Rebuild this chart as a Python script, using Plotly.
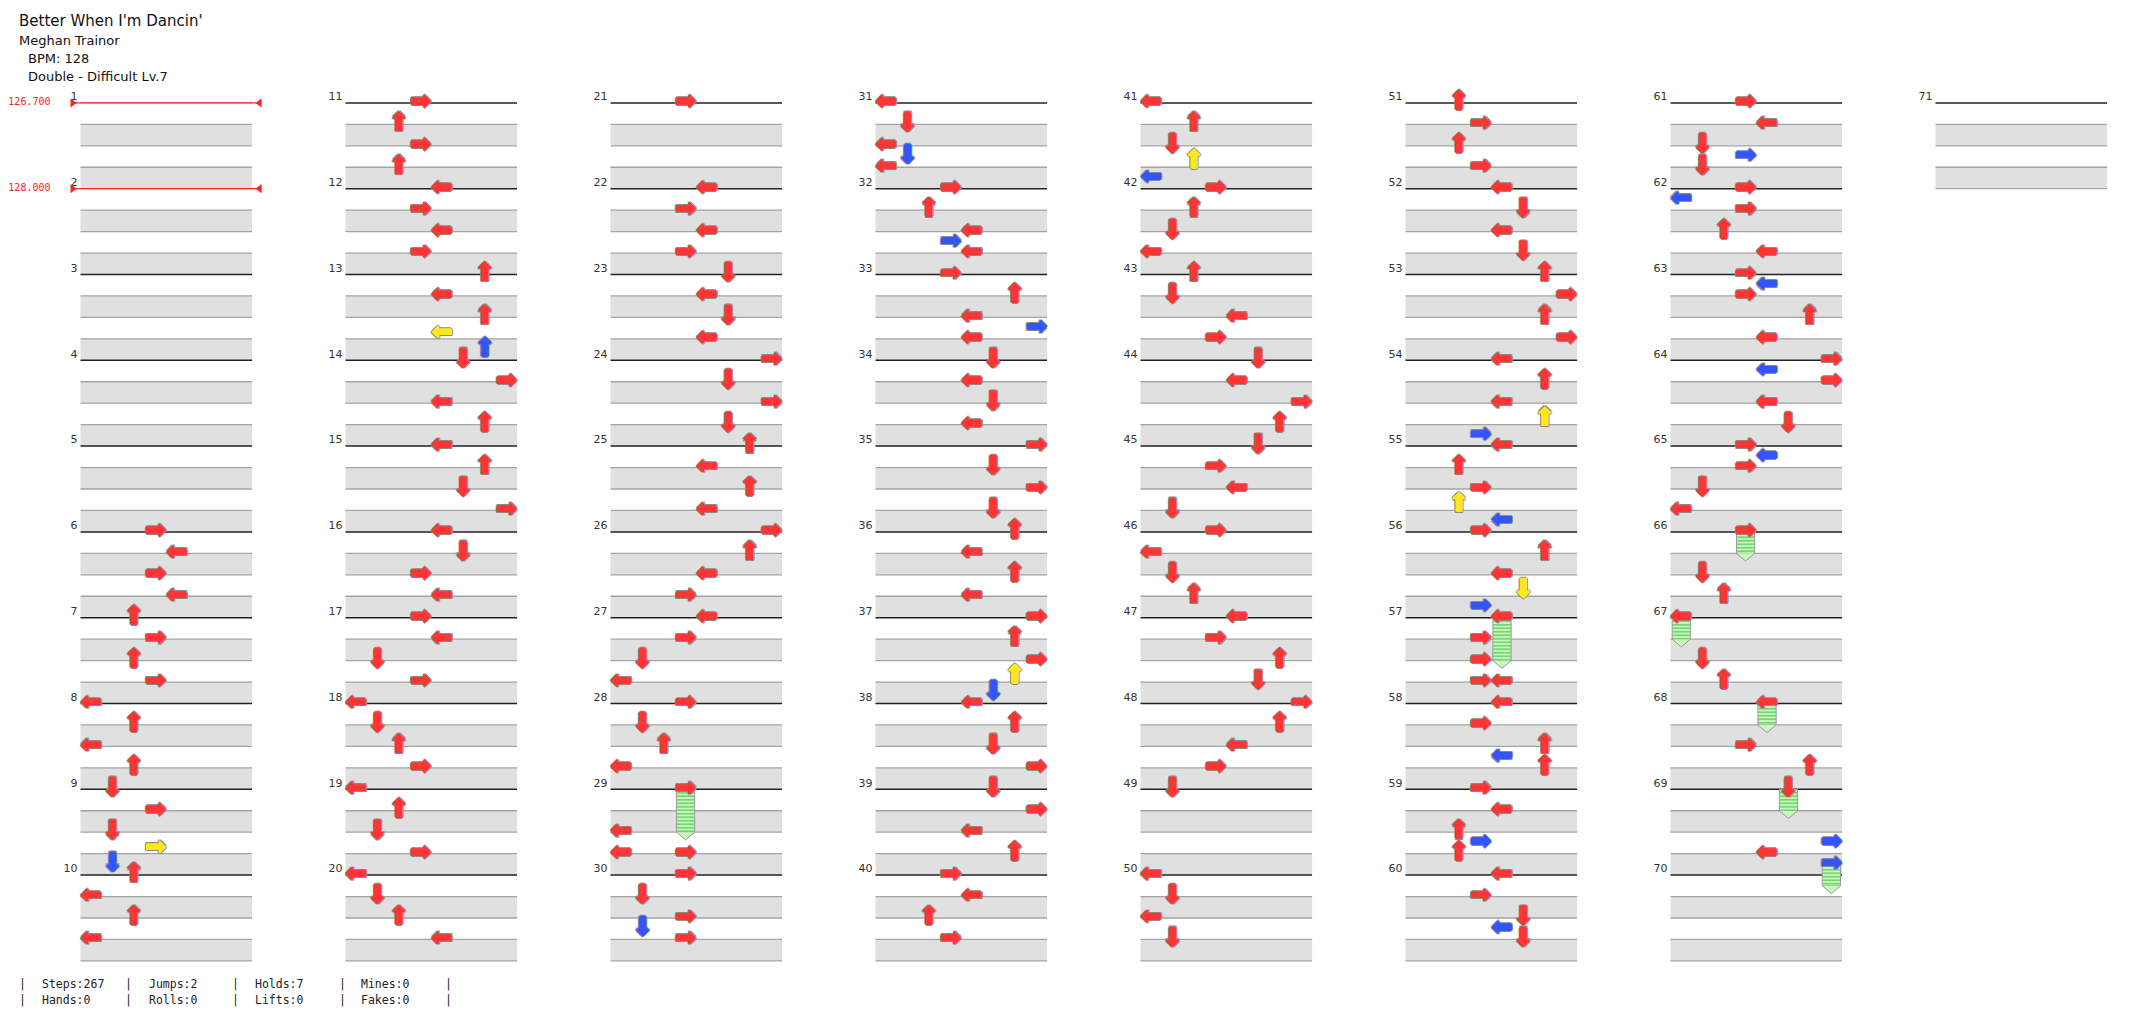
import plotly.graph_objects as go

W, H = 2145, 1024

# ---------------- text content ----------------
song_title = "Better When I'm Dancin'"
song_artist = "Meghan Trainor"
song_bpm = "BPM: 128"
song_difficulty = "Double - Difficult Lv.7"

total_measures = 71
measures_per_column = 10

bpm_change_measure = [1, 2]
bpm_change_value = [126.7, 128.0]

# ---------------- notes: (measure, beat, lane 0-7) ----------------
col1_notes = [
    (6, 0, 3), (6, 1, 4), (6, 2, 3), (6, 3, 4),
    (7, 0, 2), (7, 1, 3), (7, 2, 2), (7, 3, 3),
    (8, 0, 0), (8, 1, 2), (8, 2, 0), (8, 3, 2),
    (9, 0, 1), (9, 1, 3), (9, 2, 1), (9, 2.75, 3), (9, 3.5, 1),
    (10, 0, 2), (10, 1, 0), (10, 2, 2), (10, 3, 0),
]
col2_notes = [
    (11, 0, 3), (11, 1, 2), (11, 2, 3), (11, 3, 2),
    (12, 0, 4), (12, 1, 3), (12, 2, 4), (12, 3, 3),
    (13, 0, 6), (13, 1, 4), (13, 2, 6), (13, 2.75, 4), (13, 3.5, 6),
    (14, 0, 5), (14, 1, 7), (14, 2, 4), (14, 3, 6),
    (15, 0, 4), (15, 1, 6), (15, 2, 5), (15, 3, 7),
    (16, 0, 4), (16, 1, 5), (16, 2, 3), (16, 3, 4),
    (17, 0, 3), (17, 1, 4), (17, 2, 1), (17, 3, 3),
    (18, 0, 0), (18, 1, 1), (18, 2, 2), (18, 3, 3),
    (19, 0, 0), (19, 1, 2), (19, 2, 1), (19, 3, 3),
    (20, 0, 0), (20, 1, 1), (20, 2, 2), (20, 3, 4),
]
col3_notes = [
    (21, 0, 3),
    (22, 0, 4), (22, 1, 3), (22, 2, 4), (22, 3, 3),
    (23, 0, 5), (23, 1, 4), (23, 2, 5), (23, 3, 4),
    (24, 0, 7), (24, 1, 5), (24, 2, 7), (24, 3, 5),
    (25, 0, 6), (25, 1, 4), (25, 2, 6), (25, 3, 4),
    (26, 0, 7), (26, 1, 6), (26, 2, 4), (26, 3, 3),
    (27, 0, 4), (27, 1, 3), (27, 2, 1), (27, 3, 0),
    (28, 0, 3), (28, 1, 1), (28, 2, 2), (28, 3, 0),
    (29, 0, 3), (29, 2, 0), (29, 3, 0), (29, 3, 3),
    (30, 0, 3), (30, 1, 1), (30, 2, 3), (30, 2.5, 1), (30, 3, 3),
]
col4_notes = [
    (31, 0, 0), (31, 1, 1), (31, 2, 0), (31, 2.5, 1), (31, 3, 0),
    (32, 0, 3), (32, 1, 2), (32, 2, 4), (32, 2.5, 3), (32, 3, 4),
    (33, 0, 3), (33, 1, 6), (33, 2, 4), (33, 2.5, 7), (33, 3, 4),
    (34, 0, 5), (34, 1, 4), (34, 2, 5), (34, 3, 4),
    (35, 0, 7), (35, 1, 5), (35, 2, 7), (35, 3, 5),
    (36, 0, 6), (36, 1, 4), (36, 2, 6), (36, 3, 4),
    (37, 0, 7), (37, 1, 6), (37, 2, 7), (37, 2.75, 6), (37, 3.5, 5),
    (38, 0, 4), (38, 1, 6), (38, 2, 5), (38, 3, 7),
    (39, 0, 5), (39, 1, 7), (39, 2, 4), (39, 3, 6),
    (40, 0, 3), (40, 1, 4), (40, 2, 2), (40, 3, 3),
]
col5_notes = [
    (41, 0, 0), (41, 1, 2), (41, 2, 1), (41, 2.75, 2), (41, 3.5, 0),
    (42, 0, 3), (42, 1, 2), (42, 2, 1), (42, 3, 0),
    (43, 0, 2), (43, 1, 1), (43, 2, 4), (43, 3, 3),
    (44, 0, 5), (44, 1, 4), (44, 2, 7), (44, 3, 6),
    (45, 0, 5), (45, 1, 3), (45, 2, 4), (45, 3, 1),
    (46, 0, 3), (46, 1, 0), (46, 2, 1), (46, 3, 2),
    (47, 0, 4), (47, 1, 3), (47, 2, 6), (47, 3, 5),
    (48, 0, 7), (48, 1, 6), (48, 2, 4), (48, 3, 3),
    (49, 0, 1),
    (50, 0, 0), (50, 1, 1), (50, 2, 0), (50, 3, 1),
]
col6_notes = [
    (51, 0, 2), (51, 1, 3), (51, 2, 2), (51, 3, 3),
    (52, 0, 4), (52, 1, 5), (52, 2, 4), (52, 3, 5),
    (53, 0, 6), (53, 1, 7), (53, 2, 6), (53, 3, 7),
    (54, 0, 4), (54, 1, 6), (54, 2, 4), (54, 2.75, 6), (54, 3.5, 3),
    (55, 0, 4), (55, 1, 2), (55, 2, 3), (55, 2.75, 2), (55, 3.5, 4),
    (56, 0, 3), (56, 1, 6), (56, 2, 4), (56, 2.75, 5), (56, 3.5, 3),
    (57, 0, 4), (57, 1, 3), (57, 2, 3), (57, 3, 3), (57, 3, 4),
    (58, 0, 4), (58, 1, 3), (58, 2, 6), (58, 2.5, 4), (58, 3, 6),
    (59, 0, 3), (59, 1, 4), (59, 2, 2), (59, 2.5, 3), (59, 3, 2),
    (60, 0, 4), (60, 1, 3), (60, 2, 5), (60, 2.5, 4), (60, 3, 5),
]
col7_notes = [
    (61, 0, 3), (61, 1, 4), (61, 2, 1), (61, 2.5, 3), (61, 3, 1),
    (62, 0, 3), (62, 0.5, 0), (62, 1, 3), (62, 2, 2), (62, 3, 4),
    (63, 0, 3), (63, 0.5, 4), (63, 1, 3), (63, 2, 6), (63, 3, 4),
    (64, 0, 7), (64, 0.5, 4), (64, 1, 7), (64, 2, 4), (64, 3, 5),
    (65, 0, 3), (65, 0.5, 4), (65, 1, 3), (65, 2, 1), (65, 3, 0),
    (66, 0, 3), (66, 2, 1), (66, 3, 2),
    (67, 0, 0), (67, 2, 1), (67, 3, 2),
    (68, 0, 4), (68, 2, 3), (68, 3, 6),
    (69, 0, 5), (69, 2.5, 7), (69, 3, 4), (69, 3.5, 7),
]

# ---------------- holds (freeze arrows) ----------------
hold_measure = [29, 57, 66, 67, 68, 69, 69]
hold_beat = [0, 0, 0, 0, 0, 0, 3.5]
hold_lane = [3, 4, 3, 0, 4, 5, 7]
hold_length = [2, 2, 1, 1, 1, 1, 1]

# ---------------- footer stats ----------------
stat_top_labels = ["Steps", "Jumps", "Holds", "Mines"]
stat_top_values = [267, 2, 7, 0]
stat_bottom_labels = ["Hands", "Rolls", "Lifts", "Fakes"]
stat_bottom_values = [0, 0, 0, 0]

# ---------------- geometry (layout constants) ----------------
UNIT_PX = 21.45          # one lane width == one beat height, in pixels
X_ORIGIN_PX = 80.5       # left edge of first column
Y_ORIGIN_PX = 102.9      # first measure line
COL_PX = 265.0           # distance between columns
COL_STEP = COL_PX / UNIT_PX
LANES = 8

def col_of(m):
    return (m - 1) // measures_per_column

def row_of(m):
    return (m - 1) % measures_per_column

def note_x(m, lane):
    return col_of(m) * COL_STEP + lane + 0.5

def note_y(m, beat):
    return row_of(m) * 4 + beat

def px_x(px):
    return (px - X_ORIGIN_PX) / UNIT_PX

all_notes = col1_notes + col2_notes + col3_notes + col4_notes + col5_notes + col6_notes + col7_notes

GLYPHS = ["\u2B05", "\u2B07", "\u2B06", "\u27A1"]  # left, down, up, right

def note_kind(beat):
    frac = round(beat % 1, 3)
    if frac == 0:
        return "quarter"
    if frac == 0.5:
        return "eighth"
    return "sixteenth"

KIND_COLOR = {"quarter": "#ff3535", "eighth": "#3355ff", "sixteenth": "#ffe81a"}

fig = go.Figure()

# ---------------- grid (bands and lines) ----------------
shapes = []
n_cols = col_of(total_measures) + 1
for c in range(n_cols):
    first = c * measures_per_column + 1
    last = min(total_measures, first + measures_per_column - 1)
    x0 = c * COL_STEP
    x1 = x0 + LANES
    for m in range(first, last + 1):
        y0 = row_of(m) * 4
        for b in (1, 3):
            shapes.append(dict(type="rect", xref="x", yref="y", x0=x0, x1=x1,
                               y0=y0 + b, y1=y0 + b + 1, fillcolor="#e0e0e0",
                               line=dict(width=0), layer="below"))
        for b in (1, 2, 3):
            shapes.append(dict(type="line", xref="x", yref="y", x0=x0, x1=x1,
                               y0=y0 + b, y1=y0 + b,
                               line=dict(color="#a4a4a4", width=1.3), layer="below"))
        if m in bpm_change_measure:
            shapes.append(dict(type="line", xref="x", yref="y", x0=x0, x1=x1,
                               y0=y0, y1=y0,
                               line=dict(color="#bbbbbb", width=1.3), layer="below"))
        else:
            shapes.append(dict(type="line", xref="x", yref="y", x0=x0, x1=x1,
                               y0=y0, y1=y0,
                               line=dict(color="#222222", width=1.5), layer="below"))
    yend = (row_of(last) + 1) * 4
    shapes.append(dict(type="line", xref="x", yref="y", x0=x0, x1=x1,
                       y0=yend, y1=yend,
                       line=dict(color="#a4a4a4", width=1.3), layer="below"))

# ---------------- measure numbers ----------------
meas = list(range(1, total_measures + 1))
fig.add_trace(go.Scatter(
    x=[col_of(m) * COL_STEP - 3 / UNIT_PX for m in meas],
    y=[row_of(m) * 4 for m in meas],
    mode="text", text=[str(m) for m in meas], textposition="top left",
    textfont=dict(family="DejaVu Sans", size=11, color="#333333"),
    hoverinfo="skip", showlegend=False))

# ---------------- BPM changes ----------------
for m, v in zip(bpm_change_measure, bpm_change_value):
    xs = col_of(m) * COL_STEP - 8 / UNIT_PX
    xe = col_of(m) * COL_STEP + LANES + 7.5 / UNIT_PX
    yy = row_of(m) * 4
    fig.add_trace(go.Scatter(x=[xs, xe], y=[yy, yy], mode="lines",
                             line=dict(color="#ff2020", width=1.2),
                             hoverinfo="skip", showlegend=False))
    fig.add_trace(go.Scatter(x=[xs, xe], y=[yy, yy], mode="markers",
                             marker=dict(symbol=["triangle-right", "triangle-left"],
                                         size=8, color="#ff2020", line=dict(width=0)),
                             hoverinfo="skip", showlegend=False))
    fig.add_trace(go.Scatter(x=[col_of(m) * COL_STEP - 30 / UNIT_PX], y=[yy],
                             mode="text", text=[f"{v:.3f}"], textposition="middle left",
                             textfont=dict(family="DejaVu Sans Mono", size=10, color="#ff2020"),
                             hoverinfo="skip", showlegend=False))

# ---------------- hold bodies ----------------
HOLD_W = 0.85
fig.add_trace(go.Bar(
    x=[note_x(m, l) for m, l in zip(hold_measure, hold_lane)],
    base=[note_y(m, b) for m, b in zip(hold_measure, hold_beat)],
    y=hold_length, width=HOLD_W,
    marker=dict(color="#bdf5b2",
                line=dict(color="#9a9a9a", width=1),
                pattern=dict(shape="-", fgcolor="#55c855", bgcolor="#c6f7bc",
                             size=3.5, solidity=0.35, fillmode="replace")),
    hoverinfo="skip", showlegend=False))

TIP_H = 0.36
tip_x, tip_y = [], []
for m, b, l, ln in zip(hold_measure, hold_beat, hold_lane, hold_length):
    cx = note_x(m, l)
    ye = note_y(m, b) + ln
    tip_x += [cx - HOLD_W / 2, cx, cx + HOLD_W / 2, None]
    tip_y += [ye, ye + TIP_H, ye, None]
fig.add_trace(go.Scatter(x=tip_x, y=tip_y, mode="lines", fill="toself",
                         fillcolor="#c6f7bc", line=dict(color="#9a9a9a", width=1),
                         hoverinfo="skip", showlegend=False))

# ---------------- arrows (one trace per note colour) ----------------
def outline_shadow(col):
    inner = ", ".join(f"{dx}px {dy}px 0 {col}" for dx, dy in
                      [(0.7, 0), (-0.7, 0), (0, 0.7), (0, -0.7)])
    outer = ", ".join(f"{dx}px {dy}px 0 #8a8a8a" for dx, dy in
                      [(1.7, 0), (-1.7, 0), (0, 1.7), (0, -1.7),
                       (1.2, 1.2), (-1.2, 1.2), (1.2, -1.2), (-1.2, -1.2)])
    return inner + ", " + outer

for kind, col in KIND_COLOR.items():
    sel = [n for n in all_notes if note_kind(n[1]) == kind]
    fig.add_trace(go.Scatter(
        x=[note_x(m, l) for m, b, l in sel],
        y=[note_y(m, b) for m, b, l in sel],
        mode="text",
        text=[GLYPHS[l % 4] for m, b, l in sel],
        textposition="middle center",
        textfont=dict(family="DejaVu Sans", size=25, color=col,
                      shadow=outline_shadow(col)),
        hoverinfo="skip", showlegend=False))

# ---------------- header / footer annotations ----------------
def pxa(x, y, text, size, family="DejaVu Sans", color="#111111", xanchor="left"):
    return dict(xref="paper", yref="paper", x=x / W, y=1 - y / H, text=text,
                showarrow=False, xanchor=xanchor, yanchor="middle",
                font=dict(family=family, size=size, color=color))

annotations = [
    pxa(17, 21, song_title, 15),
    pxa(17, 40, song_artist, 13),
    pxa(26, 58, song_bpm, 13),
    pxa(26, 76, song_difficulty, 13),
]
bar_x = [22, 128, 235, 342, 448]
text_x = [40, 147, 253, 359]
for row_y in (984, 1000):
    for bx in bar_x:
        annotations.append(pxa(bx, row_y, "|", 11.5, family="DejaVu Sans Mono",
                               color="#222222", xanchor="center"))
for tx, lab, val in zip(text_x, stat_top_labels, stat_top_values):
    annotations.append(pxa(tx, 984, f"{lab}:{val}", 11.5, family="DejaVu Sans Mono", color="#222222"))
for tx, lab, val in zip(text_x, stat_bottom_labels, stat_bottom_values):
    annotations.append(pxa(tx, 1000, f"{lab}:{val}", 11.5, family="DejaVu Sans Mono", color="#222222"))

fig.update_layout(
    width=W, height=H, autosize=False,
    margin=dict(l=0, r=0, t=0, b=0, pad=0),
    paper_bgcolor="white", plot_bgcolor="white",
    barmode="overlay", bargap=0,
    showlegend=False,
    xaxis=dict(range=[px_x(0), px_x(W)], visible=False, fixedrange=True),
    yaxis=dict(range=[(H - Y_ORIGIN_PX) / UNIT_PX, -Y_ORIGIN_PX / UNIT_PX],
               visible=False, fixedrange=True),
    shapes=shapes,
    annotations=annotations,
)

fig.write_html("out.html", config={"displayModeBar": False, "staticPlot": True},
               post_script="document.body.style.margin='0';document.body.style.overflow='hidden';")
